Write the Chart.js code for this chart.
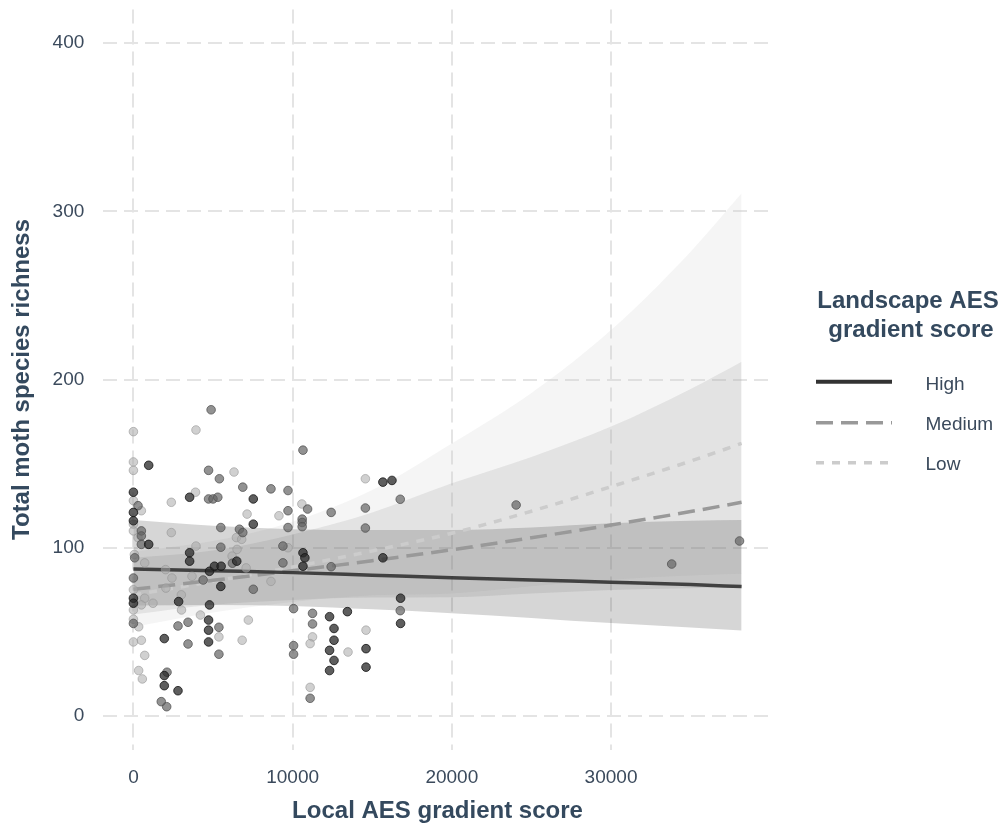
<!DOCTYPE html>
<html>
<head>
<meta charset="utf-8">
<script src="https://cdn.jsdelivr.net/npm/chart.js@4.4.1/dist/chart.umd.min.js"></script>
<style>
  html, body { margin: 0; padding: 0; background: #ffffff; }
  #wrap { position: relative; width: 1001px; height: 825px; }
</style>
</head>
<body>
<div id="wrap"><canvas id="chart"></canvas></div>
<script>
// Axis ticks
const xTicks = [0, 10000, 20000, 30000];
const yTicks = [0, 100, 200, 300, 400];

// Legend groups (landscape AES gradient score)
const groupNames = ['High', 'Medium', 'Low'];

// Observed sites: [local AES gradient score, total moth species richness]
const highPoints = [
  [0,133],[0,121],[0,116],[0,70],[0,67],
  [960,149],[960,102],
  [1940,46],[1940,24],[1940,18],[2800,15],[2840,68],
  [3530,130],[3530,97],[3530,92],
  [4720,57],[4720,51],[4720,44],[4780,86],[4780,66],
  [5090,89],[5510,89],[5490,77],[6490,92],
  [7530,129],[7530,114],
  [10650,97],[10770,94],[10650,89],
  [12320,59],[12600,52],[12600,45],[12320,39],[12600,33],[12320,27],
  [13440,62],[14610,40],[14610,29],
  [15670,139],[16240,140],[15670,94],[16780,70],[16780,55]
];
const mediumPoints = [
  [290,125],[500,110],[500,107],[500,102],[80,94],[0,82],[0,55],
  [1750,8.5],[2090,5.5],[2110,26],[2800,53.5],[3430,55.7],[3430,42.8],
  [4380,80.8],[4720,146],[4720,129],[4880,182],[5000,129],[5300,130],[5400,141],
  [5370,52.7],[5370,36.7],[5490,112],[5490,100.3],
  [6220,90.8],[6660,111],[6870,136],[6870,109],
  [7530,75.3],[8640,135],
  [9390,101],[9390,91],[9710,134],[9710,122],[9710,112],
  [10060,63.8],[10060,41.8],[10060,36.7],[10600,117],[10600,115],[10600,112.5],[10650,158],[10940,123],
  [11250,61],[11250,54.7],[11100,10.5],
  [12420,121],[12420,88.7],
  [14570,123.6],[14570,111.7],
  [16760,128.8],[16760,62.6],
  [24040,125.4],[33810,90.3],[38070,104]
];
const lowPoints = [
  [0,169],[3930,170],[0,151],[0,146],[0,128],[2380,127],[3900,133],[500,122],[0,114],[0,110],
  [6320,145],[7140,120],[9140,119],[10580,126],[14570,141],
  [290,106],[2380,109],[3930,101],[6510,99],[9710,100],[60,96],[710,91],[6200,95],[7080,88],[2020,87],
  [6470,106],[6800,105],
  [2420,82],[3680,83],[2040,76],[8640,80],
  [0,75],[710,70],[500,66],[1230,67],[3010,72],[3020,63],[4210,60],[0,63],[0,57.5],[330,53],
  [7220,57],[5370,47],[500,45],[0,44],[6830,45],[710,36],[330,27],[560,22],
  [11250,47],[11100,43],[11100,17],[13480,38],[14610,51]
];

// Fitted trends with confidence bands
const fitX = [0, 5000, 10000, 15000, 20000, 25000, 30000, 35000, 38200];
const highFit     = [87.4, 86.3, 85.2, 83.7, 82.2, 80.8, 79.5, 78.1, 76.9];
const highLower   = [65.6, 65.9, 65.4, 63.4, 61.1, 58.3, 55.2, 52.6, 50.8];
const highUpper   = [116.5, 113.0, 111.0, 110.5, 110.5, 112.0, 114.5, 116.0, 116.5];
const mediumFit   = [75.3, 80.6, 86.3, 92.3, 98.8, 105.9, 113.5, 121.5, 127.0];
const mediumLower = [60.3, 66.1, 69.0, 70.4, 70.6, 72.8, 74.9, 75.9, 76.6];
const mediumUpper = [94.0, 98.3, 107.9, 121.0, 138.3, 154.0, 172.0, 194.4, 210.6];
const lowFit      = [71.9, 80.0, 88.5, 98.1, 108.6, 121.7, 136.3, 151.5, 162.0];
const lowLower    = [52.9, 61.5, 67.8, 71.7, 72.8, 77.1, 81.0, 83.5, 84.5];
const lowUpper    = [97.7, 104.0, 115.5, 134.3, 162.0, 192.0, 229.4, 276.0, 310.7];

const FONT = "'Liberation Sans', Arial, Helvetica, sans-serif";
const TITLE_COLOR = '#34495e';
const TICK_COLOR = '#3b4a5c';

const styles = {
  High:   { line: '#333333', plotLine: 'rgba(51,51,51,0.9)', dash: [], band: 'rgba(51,51,51,0.2)',
            fill: 'rgba(40,40,40,0.75)', border: 'rgba(20,20,20,0.8)' },
  Medium: { line: '#999999', plotLine: '#999999', dash: [17, 8], band: 'rgba(153,153,153,0.2)',
            fill: 'rgba(100,100,100,0.7)', border: 'rgba(80,80,80,0.75)' },
  Low:    { line: '#cccccc', plotLine: '#cccccc', dash: [8, 8], band: 'rgba(204,204,204,0.2)',
            fill: 'rgba(170,170,170,0.55)', border: 'rgba(150,150,150,0.6)' }
};

const pairs = (xs, ys) => xs.map((x, i) => ({ x: x, y: ys[i] }));
const toXY = pts => pts.map(p => ({ x: p[0], y: p[1] }));

const series = {
  High:   { pts: highPoints,   fit: highFit,   lo: highLower,   hi: highUpper },
  Medium: { pts: mediumPoints, fit: mediumFit, lo: mediumLower, hi: mediumUpper },
  Low:    { pts: lowPoints,    fit: lowFit,    lo: lowLower,    hi: lowUpper }
};

const datasets = [];
// confidence bands: lower edge followed by upper edge filled down to it
groupNames.forEach(g => {
  const s = series[g], st = styles[g];
  datasets.push({
    type: 'line', label: g + ' lower', data: pairs(fitX, s.lo),
    borderColor: 'rgba(0,0,0,0)', borderWidth: 0, pointRadius: 0, fill: false,
    cubicInterpolationMode: 'monotone', order: 10
  });
  datasets.push({
    type: 'line', label: g + ' upper', data: pairs(fitX, s.hi),
    borderColor: 'rgba(0,0,0,0)', borderWidth: 0, pointRadius: 0, fill: '-1',
    backgroundColor: st.band, cubicInterpolationMode: 'monotone', order: 10
  });
});
// fitted lines
groupNames.forEach(g => {
  const s = series[g], st = styles[g];
  datasets.push({
    type: 'line', label: g, data: pairs(fitX, s.fit),
    borderColor: st.plotLine, borderWidth: 3.5, borderDash: st.dash, borderCapStyle: 'butt',
    pointRadius: 0, fill: false, cubicInterpolationMode: 'monotone', order: 5
  });
});
// sites
groupNames.slice().reverse().forEach(g => {
  const s = series[g], st = styles[g];
  datasets.push({
    type: 'scatter', label: g + ' sites', data: toXY(s.pts),
    backgroundColor: st.fill, borderColor: st.border, borderWidth: 1,
    pointRadius: 4.3, pointHoverRadius: 4.3, order: g === 'High' ? 1 : (g === 'Medium' ? 2 : 3)
  });
});

// legend drawn to the right of the panel
const legendPlugin = {
  id: 'aesLegend',
  afterDraw(chart) {
    const ctx = chart.ctx;
    ctx.save();
    ctx.fillStyle = TITLE_COLOR;
    ctx.font = 'bold 24px ' + FONT;
    ctx.textAlign = 'center';
    ctx.textBaseline = 'alphabetic';
    ctx.fillText('Landscape AES', 908, 308);
    ctx.fillText('gradient score', 911, 337);
    const rows = [
      { g: 'High', y: 381.7, base: 390 },
      { g: 'Medium', y: 422.7, base: 430 },
      { g: 'Low', y: 462.7, base: 470 }
    ];
    rows.forEach(r => {
      const st = styles[r.g];
      ctx.beginPath();
      ctx.setLineDash(st.dash);
      ctx.lineCap = 'butt';
      ctx.lineWidth = r.g === 'High' ? 4 : 3.5;
      ctx.strokeStyle = st.line;
      ctx.moveTo(816, r.y);
      ctx.lineTo(892, r.y);
      ctx.stroke();
      ctx.setLineDash([]);
      ctx.fillStyle = TICK_COLOR;
      ctx.font = '19px ' + FONT;
      ctx.textAlign = 'left';
      ctx.fillText(r.g, 925.5, r.base);
    });
    ctx.restore();
  }
};

const gridOpts = { color: '#e4e4e4', lineWidth: 2, drawTicks: false };

new Chart(document.getElementById('chart'), {
  type: 'scatter',
  data: { datasets: datasets },
  plugins: [legendPlugin],
  options: {
    responsive: true,
    maintainAspectRatio: false,
    animation: false,
    events: [],
    layout: { padding: { top: 9.4, right: 229, bottom: 0, left: 0 } },
    plugins: { legend: { display: false }, tooltip: { enabled: false } },
    scales: {
      x: {
        type: 'linear', min: -1910, max: 40110,
        afterBuildTicks: s => { s.ticks = xTicks.map(v => ({ value: v })); },
        afterFit: s => { s.height = 75.4; s.paddingLeft = 0; s.paddingRight = 0; },
        ticks: { color: TICK_COLOR, font: { family: FONT, size: 19 }, padding: 16.5,
                 maxRotation: 0, autoSkip: false, callback: v => String(v) },
        grid: gridOpts,
        border: { display: false, dash: [14, 7] },
        title: { display: true, text: 'Local AES gradient score', color: TITLE_COLOR,
                 font: { family: FONT, size: 24, weight: 'bold', lineHeight: 1 },
                 padding: { top: 0, bottom: 1.4 } }
      },
      y: {
        type: 'linear', min: -20, max: 420,
        afterBuildTicks: s => { s.ticks = yTicks.map(v => ({ value: v })); },
        afterFit: s => { s.width = 103; s.paddingTop = 0; s.paddingBottom = 0; },
        ticks: { color: TICK_COLOR, font: { family: FONT, size: 19 }, padding: 18.7,
                 autoSkip: false, callback: v => String(v) },
        grid: gridOpts,
        border: { display: false, dash: [14, 7] },
        title: { display: true, text: 'Total moth species richness', color: TITLE_COLOR,
                 font: { family: FONT, size: 24, weight: 'bold', lineHeight: 1 },
                 padding: { top: 10.6, bottom: 0 } }
      }
    }
  }
});
</script>
</body>
</html>
